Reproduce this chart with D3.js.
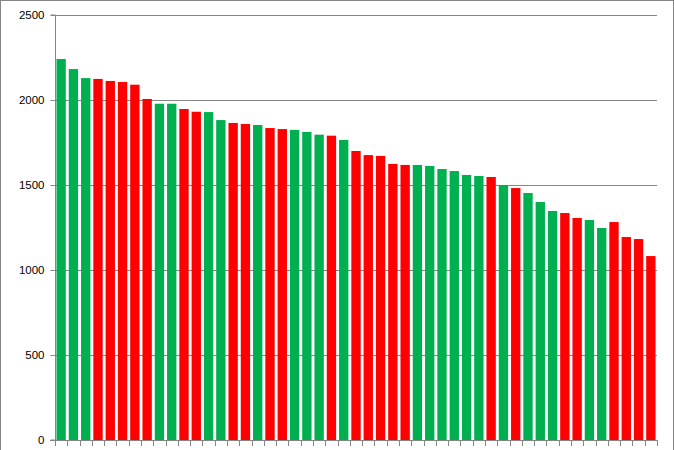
<!DOCTYPE html>
<html><head><meta charset="utf-8">
<script src="https://cdn.jsdelivr.net/npm/d3@7"></script>
<style>html,body{margin:0;padding:0;background:#fff;}svg{display:block;}</style>
</head><body>
<script>
const values = [2241,2182,2129,2124,2112,2106,2090,2006,1978,1978,1947,1931,1929,1882,1865,1859,1853,1835,1829,1824,1812,1796,1790,1765,1700,1676,1671,1624,1618,1618,1612,1594,1582,1559,1553,1547,1500,1482,1453,1400,1347,1335,1306,1294,1247,1282,1194,1182,1082];
const colorKeys = ["G","G","G","R","R","R","R","R","G","G","R","R","G","G","R","R","G","R","R","G","G","G","R","G","R","R","R","R","R","G","G","G","G","G","G","R","G","R","G","G","G","R","R","G","G","R","R","R","R"];
const categories = values.map((d,i)=>"C"+(i+1));
const yTicks = [0,500,1000,1500,2000,2500];

const W=674,H=450;
const m={left:55,right:17,top:15,bottom:10};
const svg=d3.select("body").append("svg").attr("width",W).attr("height",H);
svg.append("rect").attr("x",0.5).attr("y",0.5).attr("width",W-1).attr("height",H+5)
  .attr("fill","#fff").attr("stroke","#868686");

const x=d3.scaleBand().domain(categories).range([m.left,W-m.right]).paddingInner(0.24).paddingOuter(0.12);
const y=d3.scaleLinear().domain([0,2500]).range([H-m.bottom,m.top]);

// gridlines
svg.append("g").selectAll("line").data(yTicks.filter(d=>d>0)).join("line")
  .attr("x1",m.left).attr("x2",W-m.right)
  .attr("y1",d=>Math.round(y(d))+0.5).attr("y2",d=>Math.round(y(d))+0.5)
  .attr("stroke","#868686").attr("stroke-width",1);

// bars
const colors={G:"#00B050",R:"#FF0000"};
svg.append("g").selectAll("rect").data(values).join("rect")
  .attr("x",(d,i)=>x(categories[i]))
  .attr("width",x.bandwidth())
  .attr("y",d=>y(d))
  .attr("height",d=>y(0)-y(d))
  .attr("fill",(d,i)=>colors[colorKeys[i]]);

// y axis
const yAxis=d3.axisLeft(y).tickValues(yTicks).tickSize(5).tickPadding(6).tickFormat(d3.format("d"));
const gy=svg.append("g").attr("transform",`translate(${m.left+0.5},0)`).call(yAxis);
gy.selectAll("line").attr("stroke","#868686");
gy.select(".domain").attr("stroke","#868686").attr("d",`M-5,${y(2500)}H0V${y(0)}H-5`);
gy.selectAll("text").attr("font-family","Liberation Sans, Arial, sans-serif").attr("font-size",11.5).attr("fill","#000");

// x axis with ticks at band boundaries
const step=x.step();
const bounds=d3.range(categories.length+1).map(i=>m.left+i*(W-m.right-m.left)/categories.length);
const gx=svg.append("g");
gx.append("line").attr("x1",m.left-5).attr("x2",W-m.right).attr("y1",Math.round(y(0))+0.5).attr("y2",Math.round(y(0))+0.5).attr("stroke","#868686");
gx.selectAll("line.t").data(bounds).join("line").attr("class","t")
  .attr("x1",d=>Math.round(d)+0.5).attr("x2",d=>Math.round(d)+0.5)
  .attr("y1",Math.round(y(0))).attr("y2",Math.round(y(0))+6).attr("stroke","#868686");
</script>
</body></html>
